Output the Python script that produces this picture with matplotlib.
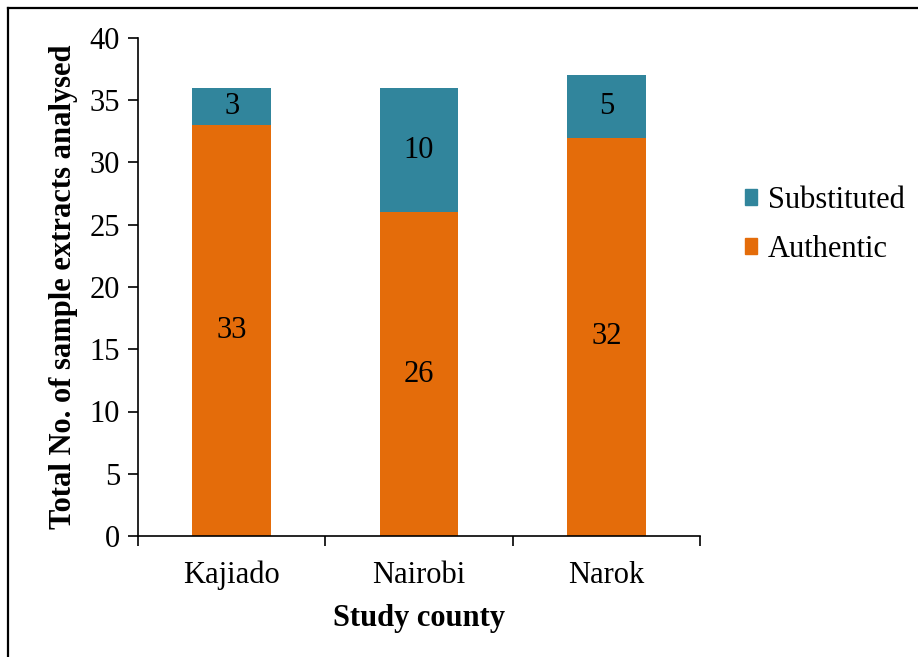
import matplotlib.pyplot as plt
from matplotlib.lines import Line2D
from matplotlib.patches import Patch
import numpy as np

counties = ['Kajiado', 'Nairobi', 'Narok']
authentic = [33, 26, 32]
substituted = [3, 10, 5]

orange = '#E46C0A'
teal = '#31859C'

plt.rcParams['font.family'] = ['Liberation Serif', 'DejaVu Serif']
fs = 22

fig = plt.figure(figsize=(9.18, 6.57), dpi=100)
ax = fig.add_axes([138 / 918, 1 - 536 / 657, (700 - 138) / 918, (536 - 38) / 657])

x = np.arange(len(counties))
width = 0.42
ax.bar(x, authentic, width, color=orange, label='Authentic')
ax.bar(x, substituted, width, bottom=authentic, color=teal, label='Substituted')

# segment value labels
for xi, a, s in zip(x, authentic, substituted):
    ax.text(xi, a / 2, str(a), ha='center', va='center', fontsize=fs)
    ax.text(xi, a + s / 2, str(s), ha='center', va='center', fontsize=fs)

ax.set_xlim(-0.5, 2.5)
ax.set_ylim(0, 40)
ax.set_yticks(range(0, 41, 5))
ax.set_xticks(x)
ax.set_xticklabels(counties)
ax.set_xticks([-0.5, 0.5, 1.5, 2.5], minor=True)
ax.tick_params(axis='x', which='major', length=0, pad=18, labelsize=fs)
ax.tick_params(axis='x', which='minor', length=7, width=1.2, direction='out')
ax.tick_params(axis='y', length=7, width=1.2, direction='out', pad=6, labelsize=fs)

for side in ['top', 'right']:
    ax.spines[side].set_visible(False)
for side in ['left', 'bottom']:
    ax.spines[side].set_linewidth(1.2)

ax.set_xlabel('Study county', fontsize=fs, fontweight='bold', labelpad=10)
ax.set_ylabel('Total No. of sample extracts analysed', fontsize=fs,
              fontweight='bold', labelpad=8)

handles = [Patch(color=teal), Patch(color=orange)]
fig.legend(handles, ['Substituted', 'Authentic'], loc='center left',
           bbox_to_anchor=(717 / 918, 1 - 225 / 657), frameon=False,
           fontsize=fs, handlelength=0.42, handleheight=0.42,
           handletextpad=0.35, labelspacing=0.65)

# outer border (only top and left edges fall inside the canvas)
fig.add_artist(Line2D([7.5 / 918, 1], [1 - 7.5 / 657, 1 - 7.5 / 657],
                      transform=fig.transFigure, color='black', lw=1.6))
fig.add_artist(Line2D([7.5 / 918, 7.5 / 918], [0, 1 - 7.5 / 657],
                      transform=fig.transFigure, color='black', lw=1.6))

fig.savefig('out.png', dpi=100)
